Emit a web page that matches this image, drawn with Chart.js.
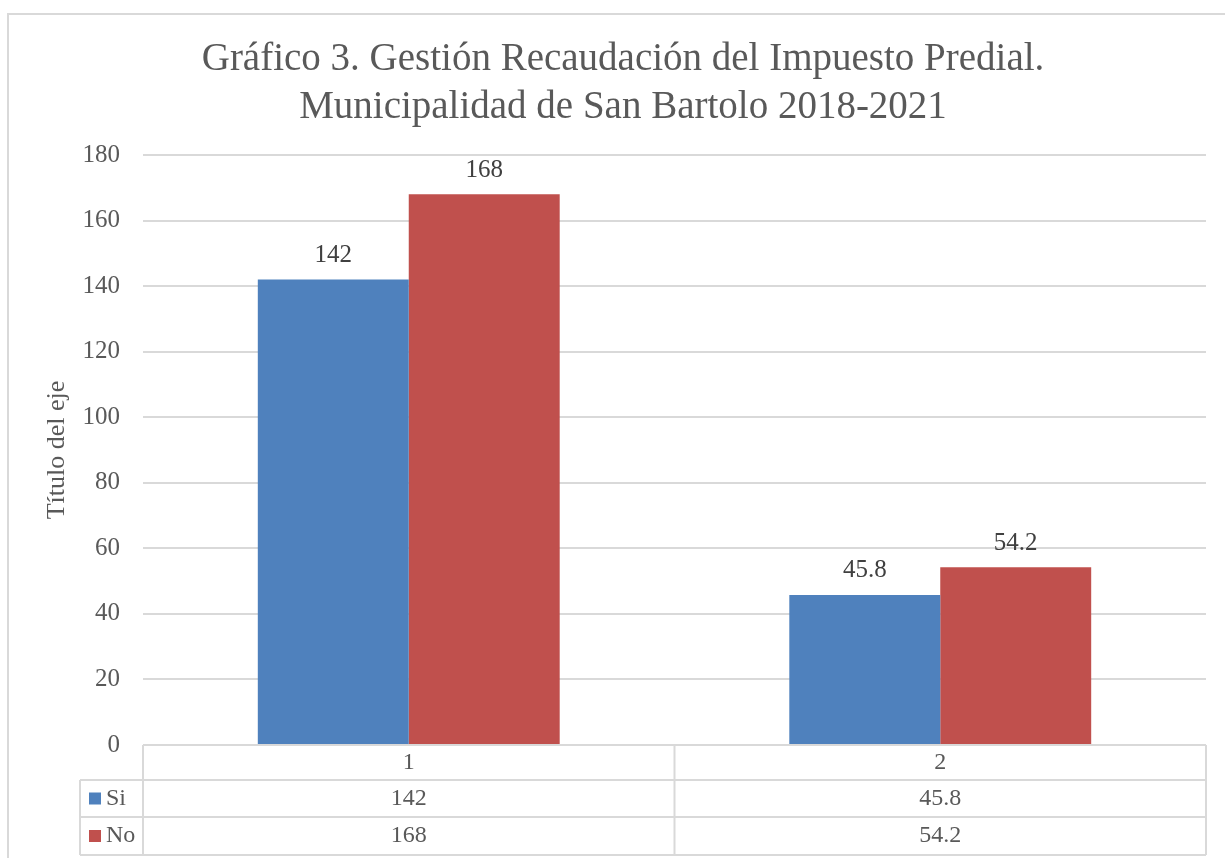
<!DOCTYPE html>
<html>
<head>
<meta charset="utf-8">
<script src="https://cdn.jsdelivr.net/npm/chart.js@4"></script>
<style>
  html, body { margin: 0; padding: 0; background: #fff; }
  #wrap { width: 1225px; height: 858px; }
</style>
</head>
<body>
<div id="wrap"><canvas id="chart" width="1225" height="858"></canvas></div>
<script>
const categories = ['1', '2'];
const seriesNames = ['Si', 'No'];
const siValues = [142, 45.8];
const noValues = [168, 54.2];
const seriesColors = ['#4F81BD', '#C0504D'];
const yTicks = { min: 0, max: 180, step: 20 };
const titleLines = ['Gráfico 3. Gestión Recaudación del Impuesto Predial.', 'Municipalidad de San Bartolo 2018-2021'];
const axisTitle = 'Título del eje';

const FONT = '"Liberation Serif", "DejaVu Serif", serif';
const GRID = '#d9d9d9';
const TEXT = '#595959';

// chart title, centred on the whole frame rather than the plot
const frameTitle = {
  id: 'frameTitle',
  afterDraw(chart) {
    const ctx = chart.ctx;
    ctx.save();
    ctx.font = '39px ' + FONT;
    ctx.fillStyle = TEXT;
    ctx.textAlign = 'center';
    ctx.textBaseline = 'middle';
    titleLines.forEach((line, i) => ctx.fillText(line, 623, 60 + i * 48));
    ctx.restore();
  }
};

// value labels above each bar
const barLabels = {
  id: 'barLabels',
  afterDatasetsDraw(chart) {
    const ctx = chart.ctx;
    ctx.save();
    ctx.font = '25px ' + FONT;
    ctx.fillStyle = '#404040';
    ctx.textAlign = 'center';
    ctx.textBaseline = 'middle';
    chart.data.datasets.forEach((ds, i) => {
      chart.getDatasetMeta(i).data.forEach((bar, j) => {
        ctx.fillText(String(ds.data[j]), bar.x, bar.y - 24);
      });
    });
    ctx.restore();
  }
};

// data table under the plot + chart frame
const dataTable = {
  id: 'dataTable',
  afterDraw(chart) {
    const ctx = chart.ctx;
    const area = chart.chartArea;
    const xs = chart.scales.x;
    const top = area.bottom;
    const rowY = [top, top + 35, top + 72, top + 110];
    const legendLeft = 80;
    const centers = categories.map((c, i) => xs.getPixelForValue(i));
    const cols = [area.left];
    for (let i = 0; i < centers.length - 1; i++) cols.push((centers[i] + centers[i + 1]) / 2);
    cols.push(area.right);

    ctx.save();
    ctx.strokeStyle = GRID;
    ctx.lineWidth = 2;
    // frame of the whole chart
    ctx.strokeRect(8, 14, 1240, 900);

    ctx.beginPath();
    ctx.moveTo(area.left, rowY[0]);
    ctx.lineTo(area.right, rowY[0]);
    for (let r = 1; r < rowY.length; r++) {
      ctx.moveTo(legendLeft, rowY[r]);
      ctx.lineTo(area.right, rowY[r]);
    }
    cols.forEach(x => {
      ctx.moveTo(x, rowY[0]);
      ctx.lineTo(x, rowY[3]);
    });
    ctx.moveTo(legendLeft, rowY[1]);
    ctx.lineTo(legendLeft, rowY[3]);
    ctx.stroke();

    ctx.font = '24px ' + FONT;
    ctx.fillStyle = TEXT;
    ctx.textAlign = 'center';
    ctx.textBaseline = 'middle';
    centers.forEach((x, i) => ctx.fillText(categories[i], x, (rowY[0] + rowY[1]) / 2));

    chart.data.datasets.forEach((ds, s) => {
      const yMid = (rowY[s + 1] + rowY[s + 2]) / 2;
      ds.data.forEach((v, i) => {
        ctx.fillStyle = TEXT;
        ctx.textAlign = 'center';
        ctx.fillText(String(v), centers[i], yMid);
      });
      ctx.fillStyle = seriesColors[s];
      ctx.fillRect(89, yMid - 6, 12, 12);
      ctx.fillStyle = TEXT;
      ctx.textAlign = 'left';
      ctx.fillText(ds.label, 106, yMid);
    });
    ctx.restore();
  }
};

new Chart(document.getElementById('chart'), {
  type: 'bar',
  plugins: [frameTitle, barLabels, dataTable],
  data: {
    labels: categories,
    datasets: [
      { label: seriesNames[0], data: siValues, backgroundColor: seriesColors[0] },
      { label: seriesNames[1], data: noValues, backgroundColor: seriesColors[1] }
    ]
  },
  options: {
    responsive: false,
    animation: false,
    layout: { padding: { left: 8, right: 19, top: 155, bottom: 0 } },
    datasets: { bar: { categoryPercentage: 0.568, barPercentage: 1, borderWidth: 0 } },
    plugins: {
      legend: { display: false },
      tooltip: { enabled: false },
      title: { display: false }
    },
    scales: {
      x: {
        grid: { display: false },
        border: { display: false },
        ticks: { display: false },
        afterFit(scale) { scale.height = 113; }
      },
      y: {
        min: yTicks.min,
        max: yTicks.max,
        ticks: { stepSize: yTicks.step, color: TEXT, padding: 23, font: { family: FONT, size: 25 } },
        grid: { color: GRID, lineWidth: 2, drawTicks: false },
        border: { display: false },
        title: {
          display: true,
          text: axisTitle,
          color: TEXT,
          font: { family: FONT, size: 26 },
          padding: { top: 34, bottom: 0 }
        },
        afterFit(scale) { scale.width = 135; }
      }
    }
  }
});
</script>
</body>
</html>
